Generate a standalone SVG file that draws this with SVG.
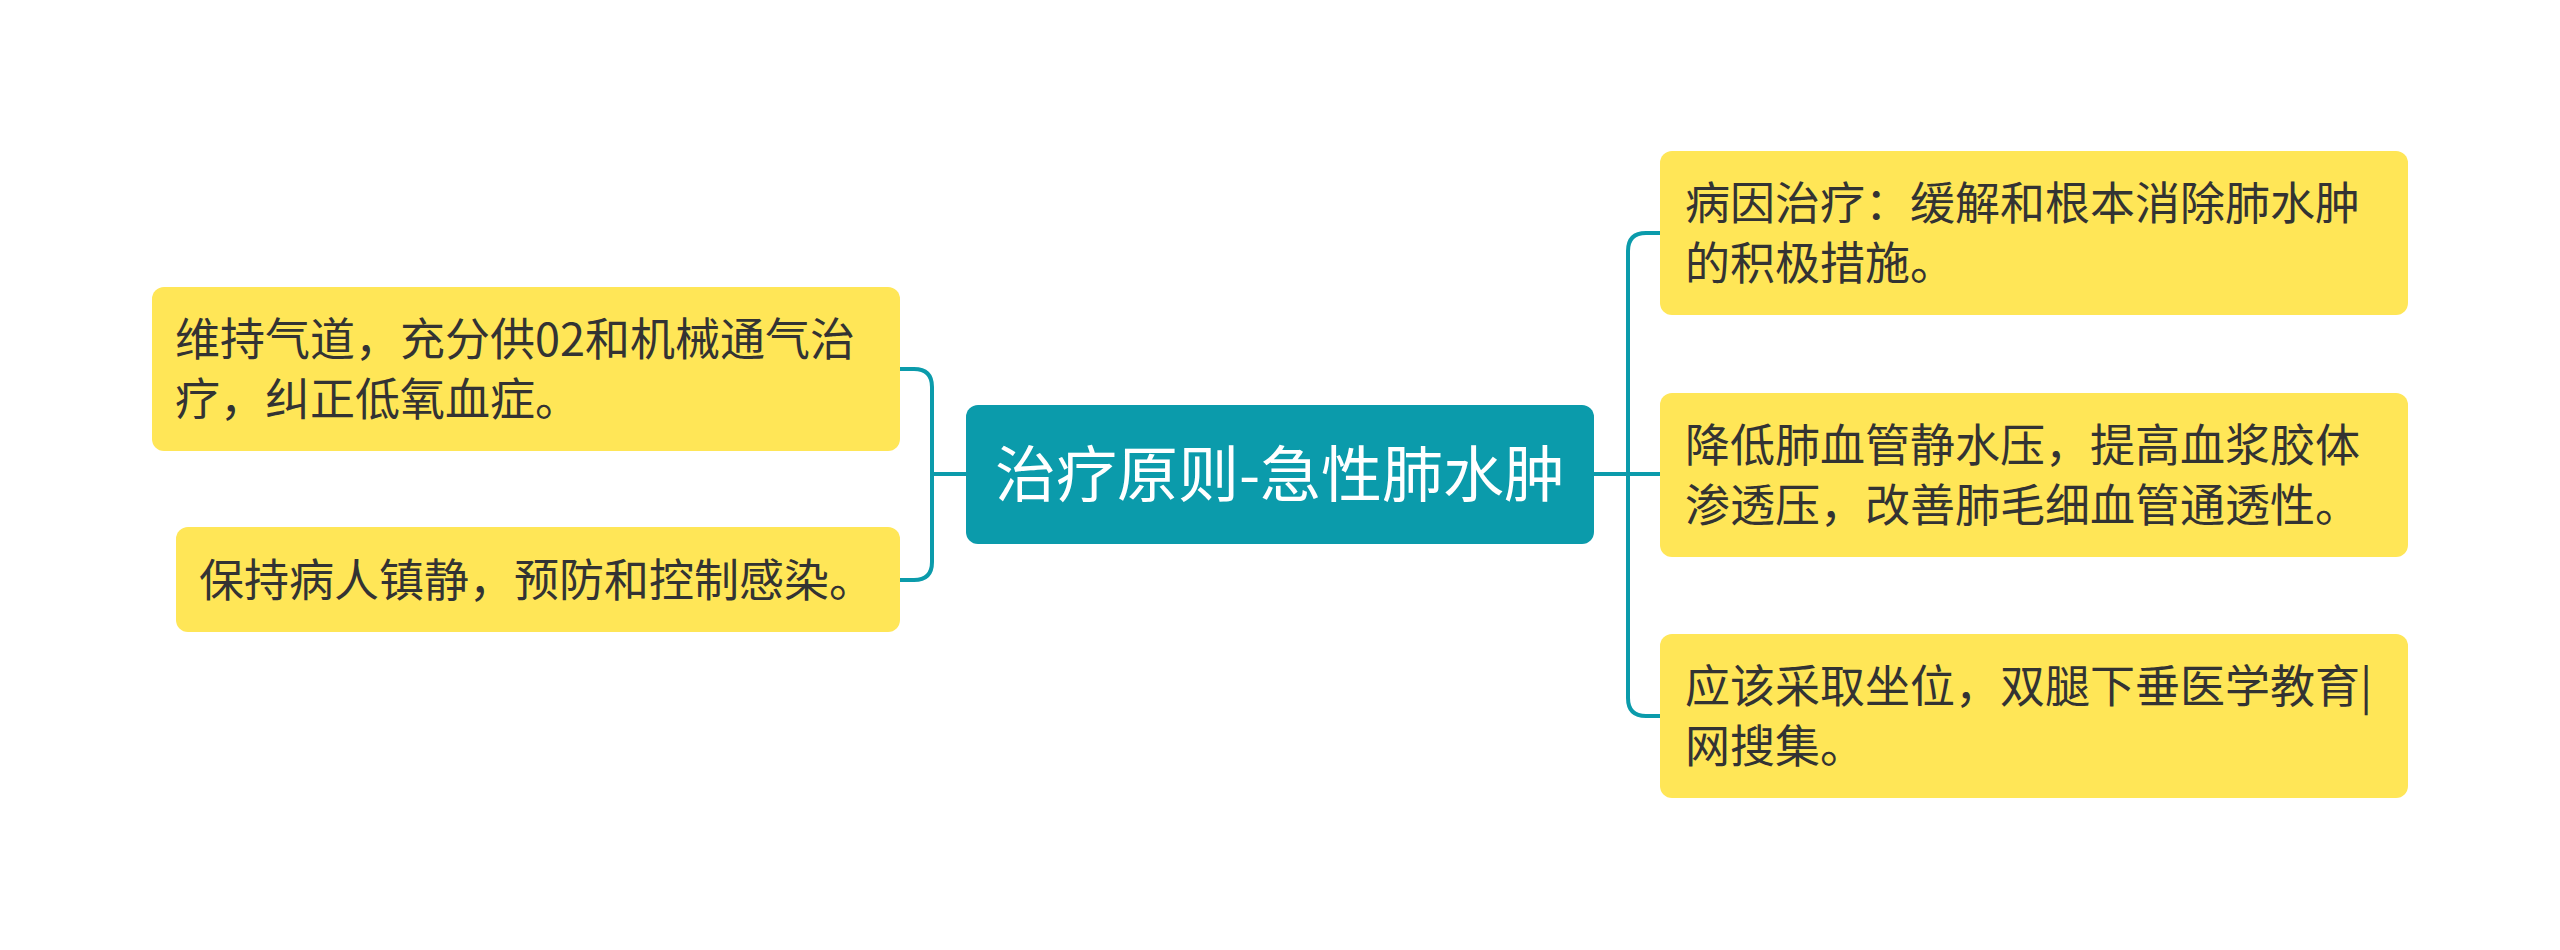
<svg xmlns="http://www.w3.org/2000/svg" width="2560" height="950" viewBox="0 0 2560 950">
<style>
.leaf{fill:#ffe657;}
.root{fill:#0b9bab;}
.t{font-family:"Noto Sans CJK SC","Noto Sans",sans-serif;font-size:45px;fill:#333333;}
.rt{font-family:"Noto Sans CJK SC","Noto Sans",sans-serif;font-size:61px;fill:#ffffff;}
.c{fill:none;stroke:#0b9bab;stroke-width:4;}
</style>
<rect width="2560" height="950" fill="#ffffff"/>
<g id="connectors">
<path class="c" d="M966,474 H932"/>
<path class="c" d="M900,369 H914 Q932,369 932,387 V562 Q932,580 914,580 H900"/>
<path class="c" d="M1594,474 H1660"/>
<path class="c" d="M1660,233 H1646 Q1628,233 1628,251 V698 Q1628,716 1646,716 H1660"/>
</g>
<g id="root">
<rect class="root" x="966" y="405" width="628" height="139" rx="12"/>
<text class="rt" x="1280" y="497" text-anchor="middle">治疗原则-急性肺水肿</text>
</g>
<g id="left1">
<rect class="leaf" x="152" y="287" width="748" height="164" rx="12"/>
<text class="t" x="175" y="356">维持气道，充分供02和机械通气治</text>
<text class="t" x="175" y="416">疗，纠正低氧血症。</text>
</g>
<g id="left2">
<rect class="leaf" x="176" y="527" width="724" height="105" rx="12"/>
<text class="t" x="199" y="597">保持病人镇静，预防和控制感染。</text>
</g>
<g id="right1">
<rect class="leaf" x="1660" y="151" width="748" height="164" rx="12"/>
<text class="t" x="1685" y="220">病因治疗：缓解和根本消除肺水肿</text>
<text class="t" x="1685" y="280">的积极措施。</text>
</g>
<g id="right2">
<rect class="leaf" x="1660" y="393" width="748" height="164" rx="12"/>
<text class="t" x="1685" y="462">降低肺血管静水压，提高血浆胶体</text>
<text class="t" x="1685" y="522">渗透压，改善肺毛细血管通透性。</text>
</g>
<g id="right3">
<rect class="leaf" x="1660" y="634" width="748" height="164" rx="12"/>
<text class="t" x="1685" y="703">应该采取坐位，双腿下垂医学教育|</text>
<text class="t" x="1685" y="763">网搜集。</text>
</g>
</svg>
